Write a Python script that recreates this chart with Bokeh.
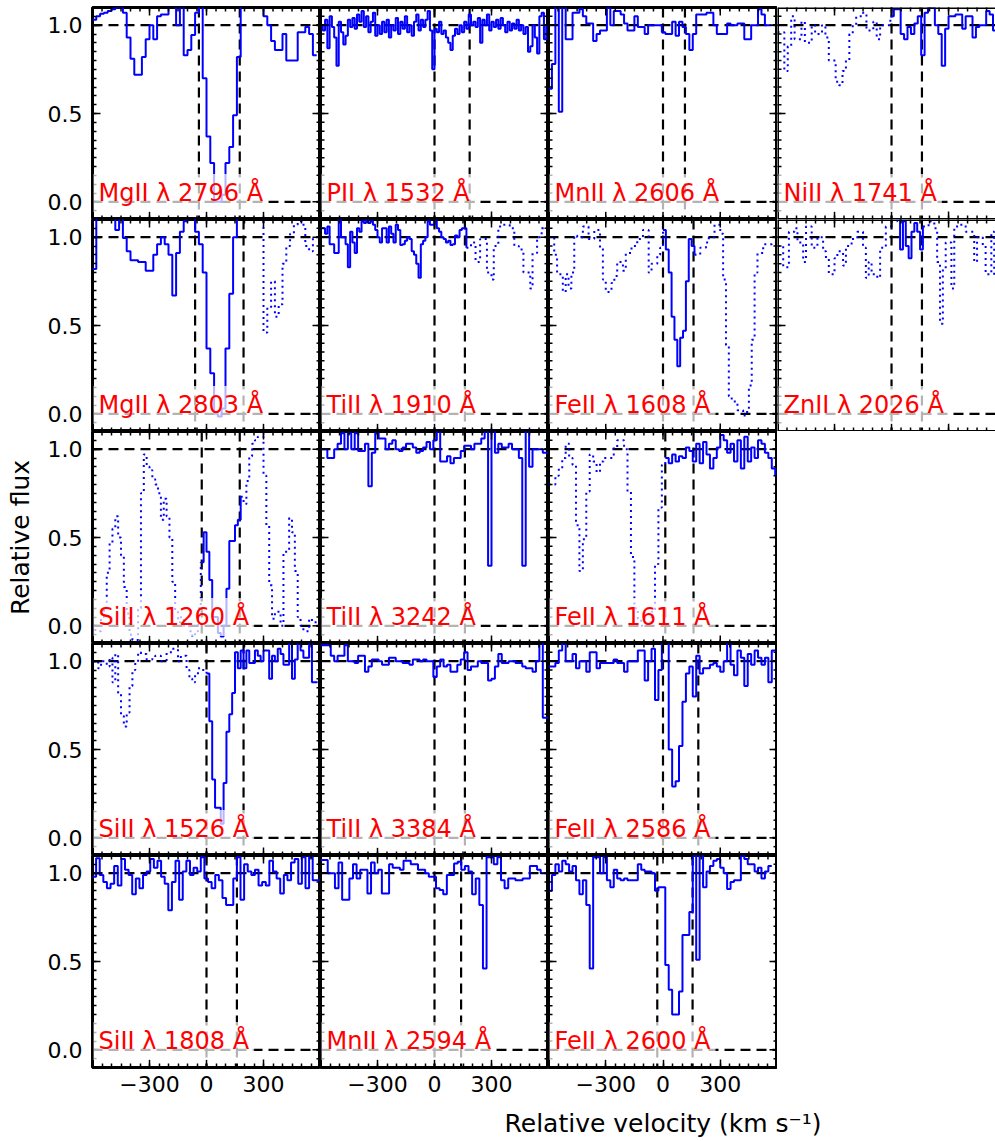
import numpy as np
from bokeh.plotting import figure
from bokeh.layouts import gridplot, column
from bokeh.models import Label, Span, FixedTicker, LinearAxis, Range1d
from bokeh.embed import file_html
from bokeh.resources import INLINE

FONT = "DejaVu Sans"
BLUE = "#0000ff"

# ---------------- axes / ticks ----------------
V_MIN, V_MAX = -600, 600
V_TRUNC = 547            # last column is cut by the picture edge
F_MIN, F_MAX = -0.1, 1.1
X_MAJOR = [-300, 0, 300]
X_MINOR = [-550, -500, -450, -400, -350, -300, -250, -200, -150, -100, -50, 0,
           50, 100, 150, 200, 250, 300, 350, 400, 450, 500, 550]
X_LABELS = {-300: "\u2212300", 0: "0", 300: "300"}
Y_MAJOR = [0.0, 0.5, 1.0]
Y_MINOR = [-0.05, 0.0, 0.05, 0.1, 0.15, 0.2, 0.25, 0.3, 0.35, 0.4, 0.45, 0.5,
           0.55, 0.6, 0.65, 0.7, 0.75, 0.8, 0.85, 0.9, 0.95, 1.0, 1.05]
Y_LABELS = {0.0: "0.0", 0.5: "0.5", 1.0: "1.0"}
X_TITLE = "Relative velocity (km s\u207b\u00b9)"
Y_TITLE = "Relative flux"

# ---------------- spectra (flux per velocity bin) ----------------
MGII2796_V0, MGII2796_DV = -600, 20
MGII2796_FLUX = [1.03, 1.05, 1.065, 1.07, 1.08, 1.09, 1.1, 1.1, 1.07,
                 0.93, 0.81, 0.72, 0.72, 0.82, 0.92, 1.0, 0.92, 1.05, 1.06, 1.06, 1.15,
                 1.12, 1.0, 1.15, 0.83, 0.86, 0.945, 1.07, 1.15, 0.70,
                 0.37, 0.22, 0.0, 0.0, 0.04, 0.22, 0.31, 0.49, 0.82,
                 1.15, 1.15, 1.15, 1.15, 1.15, 1.15,
                 1.05, 1.0, 0.91, 0.86, 0.86, 0.95, 0.80, 0.80, 0.80, 0.96, 0.96, 0.99, 0.95, 0.83]
MGII2796_LIM = [-40, 175]
MGII2796_SOLID = [-600, 600]

PII1532_V0, PII1532_DV = -600, 12
PII1532_FLUX = [1.0, 0.97, 1.03, 0.87, 1.05, 0.99, 0.93, 0.77, 1.02, 0.96,
                0.89, 0.94, 1.03, 0.99, 1.04, 0.98, 1.06, 1.02, 1.08, 0.99,
                1.05, 0.96, 1.02, 1.07, 0.94, 1.0, 0.95, 1.02, 0.96, 1.03,
                0.93, 1.0, 0.97, 1.04, 0.95, 1.02, 0.98, 1.05, 0.96, 1.0,
                0.94, 1.02, 1.06, 0.97, 1.03, 0.99, 1.03, 1.08, 0.97, 0.75,
                0.98, 0.96, 1.02, 0.95, 0.97, 0.93, 0.9, 0.86, 0.94, 0.98,
                0.95, 1.0, 0.96, 1.02, 0.98, 1.06, 1.0, 1.02, 0.99, 1.04,
                0.9, 1.03, 1.0, 1.06, 0.97, 1.02, 0.99, 1.03, 0.98, 1.04,
                1.0, 0.96, 1.02, 0.97, 1.01, 0.98, 1.03, 0.97, 1.0, 0.95,
                0.99, 0.85, 0.88, 1.0, 0.93, 0.84, 1.05, 1.07, 0.92, 1.0]
PII1532_LIM = [0, 185]
PII1532_SOLID = [-600, 600]

MNII2606_V0, MNII2606_DV = -600, 18
MNII2606_FLUX = [0.64, 0.78, 1.15, 0.51, 1.15, 0.92, 0.92, 1.07, 1.07, 1.09,
                 1.05, 1.01, 1.01, 0.91, 0.95, 0.97, 0.97, 1.1, 1.0, 1.08,
                 1.08, 1.06, 1.01, 0.97, 0.97, 1.05, 0.99, 0.99, 0.95, 1.0,
                 1.0, 1.0, 1.0, 0.96, 0.95, 0.95, 1.02, 0.94, 1.02, 0.99,
                 0.95, 0.86, 0.95, 1.06, 1.06, 1.06, 1.07, 1.07, 1.0, 0.95,
                 0.95, 0.95, 1.01, 1.0, 1.0, 1.01, 1.01, 0.92, 0.92, 1.0,
                 1.0, 1.09, 1.06, 1.0, 1.0]
MNII2606_LIM = [0, 115]
MNII2606_SOLID = [-600, 600]

NIII1741_V0, NIII1741_DV = -600, 18
NIII1741_FLUX = [0.96, 0.96, 0.74, 0.88, 1.05, 0.92, 0.92, 1.02, 0.9, 0.9,
                 1.0, 0.95, 0.95, 1.0, 0.93, 0.8, 0.8, 0.68, 0.66, 0.74,
                 0.8, 0.95, 1.0, 1.05, 1.05, 1.07, 0.97, 0.97, 1.02, 0.92,
                 1.0, 1.0, 1.0, 1.05, 1.09, 1.09, 0.95, 0.92, 0.99, 0.95,
                 1.01, 1.05, 0.83, 1.07, 1.1, 1.1, 1.0, 0.95, 0.77, 0.98,
                 1.05, 1.05, 1.06, 1.06, 0.98, 1.05, 1.05, 0.93, 0.99, 1.0,
                 1.0, 1.08, 1.06, 0.97, 1.0]
NIII1741_LIM = [0, 160]
NIII1741_SOLID = [-6, 600]

MGII2803_V0, MGII2803_DV = -600, 20
MGII2803_FLUX = [0.82, 1.15, 1.15, 1.15, 1.15, 1.15, 1.04, 1.15, 0.995, 0.92,
                 0.87, 0.87, 0.86, 0.86, 0.81, 0.81, 0.9, 0.96, 1.0, 0.96,
                 0.9, 0.67, 0.91, 1.03, 1.09, 1.15, 1.15, 1.03, 0.96, 0.8,
                 0.37, 0.23, 0.0, -0.015, 0.03, 0.37, 0.68, 1.0,
                 1.15, 1.15, 1.15, 1.15, 1.15, 1.15, 1.15,
                 0.46, 0.6, 0.75, 0.55, 0.62, 0.85, 0.95, 1.02, 1.07, 1.09, 1.07, 0.95, 0.92, 1.0]
MGII2803_LIM = [-60, 195]
MGII2803_SOLID = [-600, 250]

TIII1910_V0, TIII1910_DV = -600, 12
TIII1910_FLUX = [1.05, 1.05, 1.02, 1.06, 0.96, 0.96, 0.91, 0.91, 1.15, 1.0,
                 1.0, 0.96, 0.83, 1.03, 0.97, 0.91, 1.05, 1.03, 1.09, 1.08,
                 1.1, 1.08, 1.09, 1.07, 1.04, 1.0, 0.97, 1.05, 1.05, 0.97,
                 1.06, 1.02, 0.97, 1.07, 1.04, 0.955, 0.96, 0.98, 1.0, 0.99,
                 0.92, 0.9, 0.85, 0.77, 0.96, 0.98, 1.0, 1.09, 1.07, 1.07,
                 1.09, 1.05, 1.03, 1.0, 0.99, 0.97, 0.98, 0.955, 0.96, 1.01,
                 1.0, 1.04, 1.05, 1.05, 0.94, 0.94, 0.97, 0.97, 0.86, 0.86,
                 0.99, 0.99, 0.99, 0.8, 0.8, 0.76, 0.95, 0.95, 1.06, 1.06,
                 1.07, 1.07, 1.07, 1.05, 1.05, 0.95, 0.95, 0.93, 0.93, 0.8,
                 0.8, 0.8, 0.71, 0.91, 0.91, 1.0, 1.0, 1.05, 1.05, 1.05]
TIII1910_LIM = [0, 160]
TIII1910_SOLID = [-600, 165]

FEII1608_V0, FEII1608_DV = -600, 15
FEII1608_FLUX = [1.0, 1.0, 0.9, 0.79, 0.79, 0.69, 0.79, 0.71, 0.8, 1.01,
                 1.0, 1.0, 1.06, 1.06, 0.99, 0.99, 1.04, 1.04, 0.94, 0.76,
                 0.69, 0.69, 0.74, 0.78, 0.86, 0.86, 0.81, 0.91, 0.91, 0.95,
                 0.95, 0.99, 0.99, 1.04, 1.04, 0.8, 0.85, 0.85, 0.9, 0.94,
                 1.04, 0.93, 0.8, 0.55, 0.42, 0.27, 0.43, 0.47, 0.75, 0.99,
                 0.95, 0.9, 0.9, 0.94, 0.94, 0.97, 1.0, 1.0, 1.07, 1.07,
                 1.02, 0.76, 0.39, 0.1, 0.07, 0.07, 0.02, 0.02, -0.01, 0.01,
                 0.16, 0.42, 0.8, 0.91, 0.91, 0.96, 0.96, 0.96, 0.97]
FEII1608_LIM = [0, 160]
FEII1608_SOLID = [0, 165]

ZNII2026_V0, ZNII2026_DV = -600, 15
ZNII2026_FLUX = [0.95, 0.95, 0.83, 0.83, 1.03, 1.03, 1.05, 0.97, 0.97, 0.86,
                 1.06, 1.06, 0.94, 0.94, 1.0, 1.0, 0.92, 0.88, 0.79, 0.79,
                 0.88, 0.92, 0.92, 0.84, 0.95, 0.95, 0.99, 0.99, 1.03, 1.03,
                 0.94, 0.77, 0.86, 0.79, 0.79, 0.77, 0.94, 0.94, 1.06, 1.06,
                 1.09, 1.09, 1.15, 0.93, 1.09, 0.95, 0.88, 1.03, 1.08, 1.03,
                 0.93, 1.06, 1.06, 1.09, 1.09, 1.05, 0.86, 0.51, 0.82, 0.97,
                 0.97, 0.71, 1.06, 1.06, 1.07, 1.07, 1.03, 1.03, 1.03, 0.86,
                 1.0, 1.0, 0.95, 0.79, 0.79, 1.03, 0.77]
ZNII2026_LIM = [0, 160]
ZNII2026_SOLID = [30, 165]

SIII1260_V0, SIII1260_DV = -600, 15
SIII1260_FLUX = [0.0, -0.03, -0.03, 0.05, 0.1, 0.3, 0.47, 0.55, 0.62, 0.5,
                 0.4, 0.22, 0.07, -0.05, -0.08, -0.08, 0.1, 0.75, 0.97, 0.9,
                 0.88, 0.83, 0.8, 0.75, 0.6, 0.72, 0.62, 0.5, 0.25, 0.08,
                 0.02, 0.05, 0.0, 0.0, -0.03, -0.06, -0.03, 0.1, 0.36, 0.53,
                 0.42, 0.26, 0.05, 0.05, -0.04, -0.06, 0.0, 0.21, 0.48, 0.48,
                 0.57, 0.6, 0.73, 0.69, 0.82, 0.96, 1.03, 1.05, 1.07, 1.07,
                 0.85, 0.57, 0.23, 0.04, 0.08, 0.08, 0.0, 0.42, 0.42, 0.61,
                 0.53, 0.31, 0.05, 0.0, -0.03, -0.03, 0.04, 0.02, 0.02]
SIII1260_LIM = [-25, 175]
SIII1260_SOLID = [-30, 180]

TIII3242_V0, TIII3242_DV = -600, 18
TIII3242_FLUX = [1.0, 1.0, 0.95, 0.95, 1.0, 1.03, 1.09, 1.0, 1.09, 1.0,
                 1.09, 0.99, 0.99, 1.03, 0.79, 0.98, 1.09, 1.06, 1.06, 1.0,
                 1.03, 1.05, 1.0, 0.99, 1.01, 1.03, 1.03, 1.01, 0.98, 0.99,
                 1.01, 1.04, 1.0, 1.05, 1.15, 0.93, 0.93, 0.96, 0.92, 0.95,
                 0.95, 0.99, 1.02, 1.02, 1.0, 1.03, 1.03, 1.06, 1.15, 0.34,
                 1.15, 0.98, 1.03, 1.01, 1.01, 1.03, 1.0, 1.0, 0.95, 0.34,
                 1.15, 0.9, 1.0, 1.0, 1.0, 0.98, 0.98]
TIII3242_LIM = [0, 160]
TIII3242_SOLID = [-600, 600]

FEII1611_V0, FEII1611_DV = -600, 18
FEII1611_FLUX = [0.8, 0.8, 0.85, 0.89, 0.95, 1.03, 0.95, 0.91, 0.57, 0.31,
                 0.49, 0.76, 0.97, 0.93, 0.87, 0.93, 0.95, 0.95, 0.95, 1.01,
                 1.05, 1.05, 1.0, 0.76, 0.39, 0.1, 0.04, 0.0, 0.02, 0.02,
                 0.08, 0.35, 0.67, 0.91, 0.95, 0.92, 0.97, 0.93, 0.96, 0.95,
                 1.01, 0.99, 0.93, 1.03, 0.92, 1.04, 0.97, 0.89, 0.95, 1.01,
                 1.08, 1.05, 0.98, 1.03, 0.93, 1.05, 0.89, 1.07, 0.93, 1.01,
                 0.95, 1.05, 1.03, 0.98, 0.95, 0.89, 0.85]
FEII1611_LIM = [12, 160]
FEII1611_SOLID = [12, 600]

SIII1526_V0, SIII1526_DV = -600, 15
SIII1526_FLUX = [1.0, 1.0, 0.96, 1.0, 1.0, 0.97, 1.02, 0.88, 1.04, 0.82,
                 0.69, 0.63, 0.71, 0.86, 0.95, 0.99, 1.05, 1.04, 1.04, 1.01,
                 1.01, 1.02, 1.03, 1.03, 1.0, 1.0, 1.05, 1.05, 1.07, 1.07,
                 1.0, 1.03, 1.03, 0.95, 0.9, 0.88, 0.92, 0.96, 0.95, 0.95,
                 0.93, 0.66, 0.33, 0.17, 0.17, 0.08, 0.31, 0.6, 0.7, 0.82,
                 1.05, 0.96, 1.06, 0.96, 1.06, 0.99, 0.99, 1.06, 1.03, 1.0,
                 1.06, 1.06, 0.9, 1.03, 1.0, 1.07, 1.04, 0.98, 0.98, 1.15,
                 0.9, 1.01, 1.15, 1.06, 1.02, 1.02, 1.15, 0.88, 0.88]
SIII1526_LIM = [0, 195]
SIII1526_SOLID = [0, 600]

TIII3384_V0, TIII3384_DV = -600, 18
TIII3384_FLUX = [1.09, 1.09, 1.09, 1.03, 1.0, 1.03, 1.03, 1.09, 1.0, 1.0,
                 0.99, 1.03, 1.03, 0.94, 0.97, 1.01, 1.01, 1.0, 0.98, 0.98,
                 1.02, 1.02, 1.0, 1.0, 0.99, 0.99, 0.98, 1.01, 1.01, 1.0,
                 1.01, 1.0, 1.0, 0.91, 0.97, 1.01, 0.97, 0.98, 0.94, 0.94,
                 0.98, 1.01, 1.05, 0.95, 0.97, 0.97, 1.0, 0.99, 0.99, 0.89,
                 0.9, 0.97, 1.04, 0.99, 0.99, 1.0, 1.0, 0.99, 0.99, 0.97,
                 0.96, 0.96, 0.94, 1.0, 1.15, 0.68, 0.68]
TIII3384_LIM = [0, 160]
TIII3384_SOLID = [-600, 600]

FEII2586_V0, FEII2586_DV = -600, 18
FEII2586_FLUX = [0.97, 0.97, 0.99, 1.06, 1.15, 1.0, 1.0, 1.04, 0.96, 1.0,
                 1.0, 0.94, 1.05, 1.05, 0.96, 0.99, 0.99, 0.99, 0.99, 1.01,
                 0.99, 0.99, 0.94, 1.0, 1.0, 1.0, 1.06, 1.06, 0.89, 1.0,
                 1.07, 0.78, 0.95, 1.15, 1.15, 0.5, 0.29, 0.32, 0.52, 0.77,
                 0.93, 0.97, 0.8, 1.03, 0.93, 0.96, 0.96, 0.98, 0.99, 0.97,
                 0.94, 1.0, 1.15, 0.98, 0.92, 1.06, 1.02, 0.86, 1.04, 0.98,
                 1.06, 1.02, 0.98, 1.02, 0.88, 1.06]
FEII2586_LIM = [0, 185]
FEII2586_SOLID = [-600, 600]

SIII1808_V0, SIII1808_DV = -600, 19
SIII1808_FLUX = [0.98, 1.085, 0.99, 0.95, 0.915, 0.94, 1.04, 0.93, 1.08, 1.02,
                 0.99, 0.88, 0.97, 0.915, 0.99, 1.01, 1.08, 1.03, 1.07, 0.98,
                 0.94, 0.79, 0.95, 1.07, 0.85, 1.01, 1.07, 0.99, 1.03, 1.01,
                 1.09, 0.97, 0.95, 0.915, 0.99, 0.96, 0.86, 0.82, 0.82, 0.97,
                 1.09, 0.85, 1.05, 1.01, 0.99, 1.02, 0.93, 0.95, 0.93, 1.07,
                 1.01, 0.97, 0.885, 0.99, 0.96, 1.06, 1.08, 0.94, 1.09, 0.915,
                 1.09, 0.96, 0.96]
SIII1808_LIM = [0, 160]
SIII1808_SOLID = [-600, 600]

MNII2594_V0, MNII2594_DV = -600, 19
MNII2594_FLUX = [1.075, 1.075, 1.0, 1.0, 0.915, 1.06, 0.85, 0.85, 0.97, 1.05,
                 0.97, 1.02, 1.02, 0.885, 1.06, 1.0, 1.02, 0.885, 0.885, 1.05,
                 1.03, 1.03, 1.02, 1.07, 1.07, 1.05, 1.05, 1.02, 1.02, 1.0,
                 0.98, 0.98, 0.915, 0.905, 0.88, 0.99, 0.99, 1.055, 1.065, 1.02,
                 1.04, 1.01, 0.88, 0.97, 0.82, 0.46, 1.09, 1.09, 1.05, 1.09,
                 0.96, 0.915, 0.97, 0.97, 0.96, 0.96, 0.97, 0.97, 1.04, 1.04,
                 1.02, 1.0, 1.0]
MNII2594_LIM = [0, 140]
MNII2594_SOLID = [-600, 600]

FEII2600_V0, FEII2600_DV = -600, 18
FEII2600_FLUX = [0.9, 0.99, 1.05, 1.01, 1.07, 1.05, 1.01, 1.04, 0.96, 0.88,
                 0.96, 0.82, 0.46, 1.09, 1.09, 1.0, 1.09, 0.96, 0.92, 1.02,
                 0.97, 0.96, 0.97, 0.96, 0.96, 0.96, 1.05, 1.02, 1.01, 1.01,
                 1.0, 0.9, 0.92, 0.92, 0.48, 0.34, 0.2, 0.2, 0.33, 0.65,
                 0.65, 0.78, 1.1, 0.51, 1.1, 0.92, 1.01, 1.04, 1.07, 1.08,
                 1.03, 1.0, 0.91, 0.95, 0.96, 0.96, 1.1, 1.08, 1.05, 1.05,
                 1.01, 1.03, 0.97, 1.01, 1.04]
FEII2600_LIM = [-30, 155]
FEII2600_SOLID = [-600, 600]

# (label, grid row, grid column, v0, dv, flux, integration limits, solid range)
PANELS = [
    ("MgII \u03bb 2796 \u00c5", 0, 0, MGII2796_V0, MGII2796_DV, MGII2796_FLUX, MGII2796_LIM, MGII2796_SOLID),
    ("PII \u03bb 1532 \u00c5", 0, 1, PII1532_V0, PII1532_DV, PII1532_FLUX, PII1532_LIM, PII1532_SOLID),
    ("MnII \u03bb 2606 \u00c5", 0, 2, MNII2606_V0, MNII2606_DV, MNII2606_FLUX, MNII2606_LIM, MNII2606_SOLID),
    ("NiII \u03bb 1741 \u00c5", 0, 3, NIII1741_V0, NIII1741_DV, NIII1741_FLUX, NIII1741_LIM, NIII1741_SOLID),
    ("MgII \u03bb 2803 \u00c5", 1, 0, MGII2803_V0, MGII2803_DV, MGII2803_FLUX, MGII2803_LIM, MGII2803_SOLID),
    ("TiII \u03bb 1910 \u00c5", 1, 1, TIII1910_V0, TIII1910_DV, TIII1910_FLUX, TIII1910_LIM, TIII1910_SOLID),
    ("FeII \u03bb 1608 \u00c5", 1, 2, FEII1608_V0, FEII1608_DV, FEII1608_FLUX, FEII1608_LIM, FEII1608_SOLID),
    ("ZnII \u03bb 2026 \u00c5", 1, 3, ZNII2026_V0, ZNII2026_DV, ZNII2026_FLUX, ZNII2026_LIM, ZNII2026_SOLID),
    ("SiII \u03bb 1260 \u00c5", 2, 0, SIII1260_V0, SIII1260_DV, SIII1260_FLUX, SIII1260_LIM, SIII1260_SOLID),
    ("TiII \u03bb 3242 \u00c5", 2, 1, TIII3242_V0, TIII3242_DV, TIII3242_FLUX, TIII3242_LIM, TIII3242_SOLID),
    ("FeII \u03bb 1611 \u00c5", 2, 2, FEII1611_V0, FEII1611_DV, FEII1611_FLUX, FEII1611_LIM, FEII1611_SOLID),
    ("SiII \u03bb 1526 \u00c5", 3, 0, SIII1526_V0, SIII1526_DV, SIII1526_FLUX, SIII1526_LIM, SIII1526_SOLID),
    ("TiII \u03bb 3384 \u00c5", 3, 1, TIII3384_V0, TIII3384_DV, TIII3384_FLUX, TIII3384_LIM, TIII3384_SOLID),
    ("FeII \u03bb 2586 \u00c5", 3, 2, FEII2586_V0, FEII2586_DV, FEII2586_FLUX, FEII2586_LIM, FEII2586_SOLID),
    ("SiII \u03bb 1808 \u00c5", 4, 0, SIII1808_V0, SIII1808_DV, SIII1808_FLUX, SIII1808_LIM, SIII1808_SOLID),
    ("MnII \u03bb 2594 \u00c5", 4, 1, MNII2594_V0, MNII2594_DV, MNII2594_FLUX, MNII2594_LIM, MNII2594_SOLID),
    ("FeII \u03bb 2600 \u00c5", 4, 2, FEII2600_V0, FEII2600_DV, FEII2600_FLUX, FEII2600_LIM, FEII2600_SOLID),
]

N_ROWS, N_COLS = 5, 4
FRAME_W = [228, 228, 229, 218]
FRAME_H = 212
LEFT_BORDER, TOP_BORDER, BOTTOM_BORDER = 92, 7, 40
PAGE_W = 995
TITLE_H = 32


def draw_spectrum(p, v0, dv, flux, solid):
    flux = np.asarray(flux, dtype=float)
    edges = v0 + dv * np.arange(len(flux))
    is_solid = (edges >= solid[0]) & (edges < solid[1])
    n = len(flux)
    start = 0
    for i in range(1, n + 1):
        if i == n or is_solid[i] != is_solid[start]:
            xs = list(edges[start:i]) + [edges[i - 1] + dv]
            ys = list(flux[start:i]) + [flux[i] if i < n else flux[i - 1]]
            p.step(xs, ys, mode="after", line_color=BLUE, line_width=2,
                   line_dash="solid" if is_solid[start] else "2 4")
            start = i


def tick_marks(p, side, x_end):
    kw = dict(marker="dash", line_color="black", line_width=1.5)
    if side in ("left", "right"):
        x = V_MIN if side == "left" else x_end
        p.scatter([x] * len(Y_MINOR), Y_MINOR, size=8, angle=0, **kw)
        p.scatter([x] * len(Y_MAJOR), Y_MAJOR, size=16, angle=0, **kw)
    else:
        y = F_MAX if side == "top" else F_MIN
        p.scatter(X_MINOR, [y] * len(X_MINOR), size=8, angle=np.pi / 2, **kw)
        p.scatter(X_MAJOR, [y] * len(X_MAJOR), size=16, angle=np.pi / 2, **kw)


def make_panel(label, row, col, v0, dv, flux, lim, solid):
    truncated = col == 3
    x_end = V_TRUNC if truncated else V_MAX
    p = figure(frame_width=FRAME_W[col], frame_height=FRAME_H,
               x_range=Range1d(V_MIN, x_end), y_range=Range1d(F_MIN, F_MAX),
               x_axis_location=None, y_axis_location=None,
               toolbar_location=None, output_backend="svg",
               min_border_left=LEFT_BORDER if col == 0 else 0,
               min_border_right=0,
               min_border_top=TOP_BORDER if row == 0 else 0,
               min_border_bottom=BOTTOM_BORDER if row == N_ROWS - 1 else 0,
               background_fill_color="white", border_fill_color="white",
               outline_line_color=None if truncated else "black",
               outline_line_width=3)
    p.grid.visible = False

    # reference lines
    dash = dict(line_color="black", line_dash="10 6", line_width=2.2, level="underlay")
    for yl in (1.0, 0.0):
        p.add_layout(Span(location=yl, dimension="width", **dash))
    for vl in lim:
        p.add_layout(Span(location=vl, dimension="height", **dash))

    draw_spectrum(p, v0, dv, flux, solid)

    # ticks pointing into the panel
    if col == 0:
        ax = LinearAxis(ticker=FixedTicker(ticks=Y_MAJOR, minor_ticks=Y_MINOR),
                        major_label_overrides=Y_LABELS,
                        major_tick_in=8, major_tick_out=0, minor_tick_in=4, minor_tick_out=0,
                        major_tick_line_width=1.5, minor_tick_line_width=1.5,
                        axis_line_color=None, major_label_standoff=10,
                        major_label_text_font=FONT, major_label_text_font_size="22px",
                        major_label_text_color="black")
        if row == 2:
            ax.axis_label = Y_TITLE
            ax.axis_label_text_font = FONT
            ax.axis_label_text_font_size = "25px"
            ax.axis_label_text_font_style = "normal"
            ax.axis_label_text_color = "black"
            ax.axis_label_standoff = 10
        p.add_layout(ax, "left")
    else:
        tick_marks(p, "left", x_end)
    if not truncated:
        tick_marks(p, "right", x_end)
    tick_marks(p, "top", x_end)
    if row == N_ROWS - 1:
        ax = LinearAxis(ticker=FixedTicker(ticks=X_MAJOR, minor_ticks=X_MINOR),
                        major_label_overrides=X_LABELS,
                        major_tick_in=8, major_tick_out=0, minor_tick_in=4, minor_tick_out=0,
                        major_tick_line_width=1.5, minor_tick_line_width=1.5,
                        axis_line_color=None, major_label_standoff=8,
                        major_label_text_font=FONT, major_label_text_font_size="22px",
                        major_label_text_color="black")
        p.add_layout(ax, "below")
    else:
        tick_marks(p, "bottom", x_end)

    if truncated:
        edge = dict(line_color="black", line_width=3)
        p.add_layout(Span(location=V_MIN, dimension="height", **edge))
        p.add_layout(Span(location=F_MAX, dimension="width", **edge))
        p.add_layout(Span(location=F_MIN, dimension="width", **edge))

    p.add_layout(Label(x=V_MIN, y=0.05, x_units="data", y_units="data", x_offset=1,
                       text=label, text_font=FONT, text_font_size="24px",
                       text_color="red", text_baseline="alphabetic", text_align="left",
                       background_fill_color="white", background_fill_alpha=0.7,
                       padding=5))
    return p


grid_children = [[None] * N_COLS for _ in range(N_ROWS)]
for spec in PANELS:
    grid_children[spec[1]][spec[2]] = make_panel(*spec)

grid = gridplot(grid_children, toolbar_location=None)

# common x-axis title, centred under the third column as in the reference
title_fig = figure(width=PAGE_W, height=TITLE_H, toolbar_location=None, output_backend="svg",
                   x_axis_location=None, y_axis_location=None,
                   min_border_left=0, min_border_right=0, min_border_top=0, min_border_bottom=0,
                   outline_line_color=None, background_fill_color="white", border_fill_color="white",
                   x_range=Range1d(0, PAGE_W), y_range=Range1d(0, TITLE_H))
title_fig.grid.visible = False
title_fig.add_layout(Label(x=LEFT_BORDER + FRAME_W[0] + FRAME_W[1] + FRAME_W[2] / 2, y=TITLE_H - 16,
                           x_units="screen", y_units="screen", text=X_TITLE,
                           text_font=FONT, text_font_size="25px", text_color="black",
                           text_align="center", text_baseline="middle"))

layout = column(grid, title_fig)

with open("out.html", "w") as f:
    f.write(file_html(layout, INLINE, "Velocity profiles"))
